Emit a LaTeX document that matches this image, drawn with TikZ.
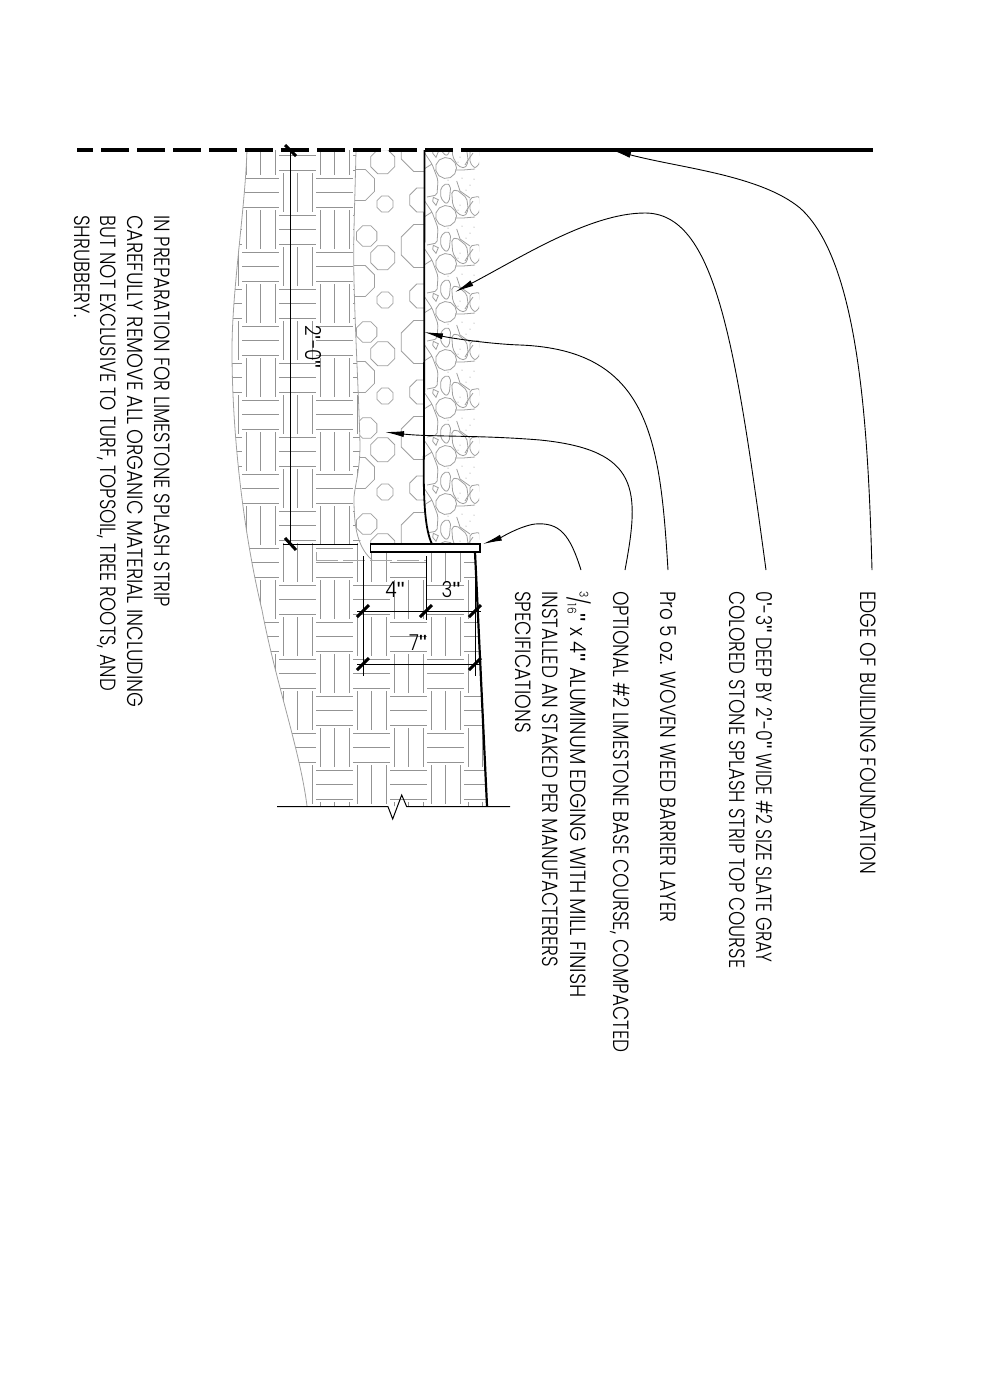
\documentclass[tikz,border=0pt]{standalone}
\usepackage{fontspec}
\setmainfont[FakeStretch=0.84]{Poppins Light}
\newfontfamily\marksfont{Liberation Sans}
\usetikzlibrary{arrows.meta}
\newcommand{\inmark}{{\marksfont"}}
\newcommand{\ftmark}{{\marksfont'}}
\newcommand{\fitline}[2]{\scalebox{#1}[1]{#2}}
\tikzset{
    note/.style={rotate=-90, anchor=north west, inner sep=0pt, align=left, font=\fontsize{22}{27.5}\selectfont},
    dimtext/.style={inner sep=0pt, font=\fontsize{22}{22}\selectfont},
    leader/.style={black, line width=0.9pt, -{Latex[length=19pt,width=6pt]}},
    hatchline/.style={gray!85, line width=0.85pt},
    stoneline/.style={gray!75, line width=0.8pt},
    cobbleline/.style={stoneline, rounded corners=2pt},
    dimline/.style={black, line width=0.8pt},
    tick/.style={black, line width=3pt}
}
\newcommand{\hatchcell}[3]{%
    \ifnum#3=1
        \foreach \d in {-14.5,0,14.5} \draw[hatchline] (#1,#2+18.5+\d) -- (#1+37,#2+18.5+\d);
    \else
        \foreach \d in {-14.5,0,14.5} \draw[hatchline] (#1+18.5+\d,#2-1) -- (#1+18.5+\d,#2+38);
    \fi}
\newcommand{\octagon}[3]{\draw[stoneline] plot[samples at={22.5,67.5,...,337.5}] ({#1+#3*cos(\x)},{#2+#3*sin(\x)}) -- cycle;}
\newcommand{\cobble}[1]{%
    \begin{scope}[shift={(0,#1)}]
        \draw[stoneline] plot[samples at={0,33,...,330}] ({446+10.5*cos(\x)},{18+10.5*sin(\x)}) -- cycle;
        \draw[cobbleline] (440.7,38) -- (446.7,33) -- (450.7,36.3) -- (449.3,51.3) -- (446,54) -- (440.7,48) -- cycle;
        \draw[stoneline] (433.3,47.3) -- (438.3,49.7) -- (436,55.3) -- (432.7,51.3) -- cycle;
        \draw[cobbleline] (451.7,41.3) -- (456.7,39.7) -- (466.7,48) -- (468.3,59.7) -- (465,66.3) -- (458,64) -- (452.7,54.7) -- cycle;
        \draw[cobbleline] (470,48) -- (479.3,46.3) -- (480,61) -- (475,66.3) -- (470,61) -- cycle;
        \draw[cobbleline] (424,2) -- (432,14) -- (438,30) -- (437,45) -- (427,47);
        \draw[stoneline] (424,19) -- (432,14);
        \draw[stoneline] (455,20) -- (463,20) -- (475,19);
        \draw[stoneline] (465,15) -- (468,10) -- (473,3);
        \draw[stoneline] (456.7,31) -- (460,41) -- (470,48);
        \fill[gray] (462,28) circle (0.5) (470,35) circle (0.5) (458,12) circle (0.5) (448,30) circle (0.5) (474,29) circle (0.5) (460,55) circle (0.5) (466,40) circle (0.5);
    \end{scope}}

\begin{document}
\begin{tikzpicture}[x=1pt,y=-1pt]
    \useasboundingbox (0,0) rectangle (991,1385);

    % soil hatch
    \begin{scope}
        \clip (247,150) .. controls (245,210) and (232,290) .. (232,350)
            .. controls (232,440) and (245,540) .. (262,610)
            .. controls (275,680) and (300,750) .. (307,806)
            -- (487,806) -- (475,552) -- (372,552) -- (362,545)
            .. controls (356,530) and (354,510) .. (354,497)
            .. controls (355,485) and (360,470) .. (360,445)
            .. controls (359,400) and (355,330) .. (354,280)
            .. controls (353,240) and (355,200) .. (356,150) -- cycle;
        \foreach \i in {0,...,7} {
            \foreach \j in {-1,...,17} {
                \pgfmathtruncatemacro{\kind}{mod(\i+\j+2,2)}
                \hatchcell{205+37*\i}{174+37*\j}{\kind}
            }
        }
    \end{scope}
    \draw[stoneline] (247,150) .. controls (245,210) and (232,290) .. (232,350)
        .. controls (232,440) and (245,540) .. (262,610)
        .. controls (275,680) and (300,750) .. (307,806);
    \draw[stoneline] (356,150) .. controls (355,200) and (353,240) .. (354,280)
        .. controls (355,330) and (359,400) .. (360,445)
        .. controls (360,470) and (355,485) .. (354,497)
        .. controls (354,520) and (355,545) .. (372,560);
    \draw[gray!70, line width=1pt, dash pattern=on 22pt off 5pt] (316,560) -- (427,560);
    \draw[gray!70, line width=1pt] (316,552) -- (316,560);

    % limestone base
    \begin{scope}
        \clip (356,150) -- (424,150) -- (424,450) .. controls (423,500) and (425,530) .. (432,544)
            -- (370,544) -- (358,544) .. controls (354,530) and (354,510) .. (354,497)
            .. controls (355,485) and (360,470) .. (360,445)
            .. controls (359,400) and (355,330) .. (354,280)
            .. controls (353,240) and (355,200) .. (356,150) -- cycle;
        \foreach \k in {0,...,4} {
            \octagon{382.7}{161.7+96*\k}{13}
            \octagon{359}{185+96*\k}{16.7}
            \octagon{385}{204+96*\k}{8.7}
            \octagon{421.7}{200+96*\k}{13}
            \octagon{422.7}{150+96*\k}{23.3}
            \octagon{366.7}{236+96*\k}{11}
        }
    \end{scope}

    % slate course
    \begin{scope}
        \clip (424,150) -- (479,150) -- (479,544) -- (432,544)
            .. controls (425,530) and (423,500) .. (424,450) -- cycle;
        \foreach \k in {-1,...,8} {
            \cobble{150+48*\k}
        }
    \end{scope}

    % building edge
    \draw[line width=3.6pt, dash pattern=on 28pt off 8pt, dash phase=12pt] (77,150) -- (461,150);
    \draw[line width=3.6pt] (461,150) -- (873,150);
    \draw[line width=1.8pt] (424.5,150) -- (424,450) .. controls (423,500) and (425,530) .. (432,544);

    % edging
    \draw[line width=2.2pt] (475,552) -- (487,806);
    \draw[fill=white, line width=1.3pt] (370.5,544) rectangle (480,552);

    % cut line
    \draw[line width=1pt] (277,806.7) -- (388,806.7) -- (392.7,819) -- (401.7,795) -- (406.7,806.7) -- (510,806.7);

    % dimensions
    \coordinate (wallTop) at (290,150);
    \coordinate (wallFoot) at (290,544);
    \coordinate (stripFoot) at (358,544);
    \draw[dimline] (wallTop) -- (wallFoot);
    \draw[dimline] (283,544) -- (stripFoot);
    \coordinate (fourTop) at (363,556);
    \coordinate (fourBot) at (363,676);
    \coordinate (threeTop) at (426,556);
    \coordinate (threeBot) at (426,620);
    \coordinate (edgeTop) at (475,552);
    \coordinate (edgeBot) at (475,676);
    \draw[dimline] (fourTop) -- (fourBot);
    \draw[dimline] (threeTop) -- (threeBot);
    \draw[dimline] (edgeTop) -- (edgeBot);
    \draw[dimline] (357,611) -- (481,611);
    \draw[dimline] (357,664) -- (481,664);
    \foreach \p in {(363,611),(426,611),(475,611),(363,664),(475,664)} {
        \draw[tick] \p ++(-6,6) -- ++(12,-12);
    }
    \draw[tick] (285,145) -- (296,156);
    \draw[tick] (285,538) -- (296,550);

    \node[dimtext, rotate=-90] (wallDim) at (313,347) {2\ftmark-0\inmark};
    \node[dimtext] (fourDim) at (395,590) {4\inmark};
    \node[dimtext] (threeDim) at (451,590) {3\inmark};
    \node[dimtext] (sevenDim) at (418,643) {7\inmark};

    % notes
    \node[note] (edgeNote) at (876,591) {\fitline{1.012}{EDGE OF BUILDING FOUNDATION}};
    \node[note] (slateNote) at (773,591) {\fitline{0.948}{0\ftmark-3\inmark{} DEEP BY 2\ftmark-0\inmark{} WIDE \#2 SIZE SLATE GRAY}\\\fitline{0.986}{COLORED STONE SPLASH STRIP TOP COURSE}};
    \node[note] (barrierNote) at (676,591) {Pro 5 oz. WOVEN WEED BARRIER LAYER};
    \node[note] (baseNote) at (630,591) {OPTIONAL \#2 LIMESTONE BASE COURSE, COMPACTED};
    \node[note] (edgingNote) at (586,591) {\fitline{1.055}{\smash{\raisebox{0.8ex}{\fontsize{12}{12}\selectfont 3}\kern-1pt/\kern-1pt\raisebox{-0.2ex}{\fontsize{12}{12}\selectfont 16}}\inmark{} x 4\inmark{} ALUMINUM EDGING WITH MILL FINISH}\\INSTALLED AN STAKED PER MANUFACTERERS\\\fitline{1.012}{SPECIFICATIONS}};
    \node[note, font=\fontsize{22}{26.7}\selectfont] (prepNote) at (170,215) {\fitline{0.987}{IN PREPARATION FOR LIMESTONE SPLASH STRIP}\\\fitline{1.029}{CAREFULLY REMOVE ALL ORGANIC MATERIAL INCLUDING}\\\fitline{0.981}{BUT NOT EXCLUSIVE TO TURF, TOPSOIL, TREE ROOTS, AND}\\SHRUBBERY.};

    % leaders
    \coordinate (edgeTail) at (872,570);
    \coordinate (edgeTip) at (612,150);
    \coordinate (slateTail) at (766,570);
    \coordinate (slateTip) at (455,292);
    \coordinate (barrierTail) at (668,570);
    \coordinate (barrierTip) at (424,332);
    \coordinate (baseTail) at (625,570);
    \coordinate (baseTip) at (385,432);
    \coordinate (edgingTail) at (581,570);
    \coordinate (edgingTip) at (483,544);
    \draw[leader] (edgeTail) .. controls (868,420) and (858,260) .. (800,208) .. controls (760,175) and (680,168) .. (edgeTip);
    \draw[leader] (slateTail) .. controls (735,340) and (715,213) .. (645,213) .. controls (590,213) and (520,258) .. (slateTip);
    \draw[leader] (barrierTail) .. controls (660,440) and (650,350) .. (520,345) .. controls (490,344) and (450,338) .. (barrierTip);
    \draw[leader] (baseTail) .. controls (640,490) and (640,450) .. (540,440) .. controls (480,435) and (430,437) .. (baseTip);
    \draw[leader] (edgingTail) .. controls (570,535) and (560,522) .. (535,524) .. controls (520,526) and (500,538) .. (edgingTip);
\end{tikzpicture}
\end{document}
